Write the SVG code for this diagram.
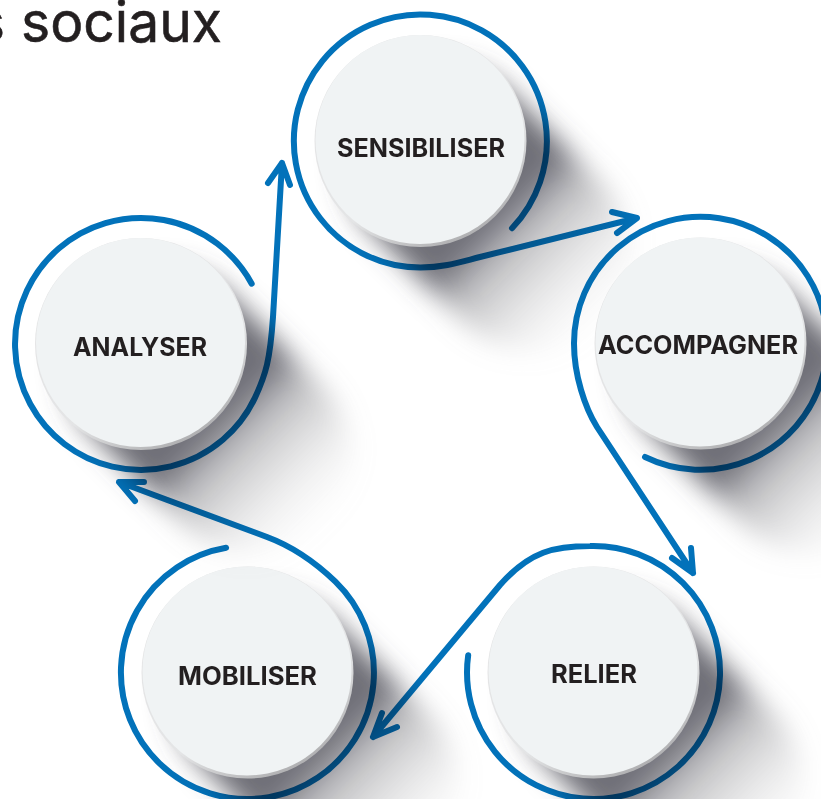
<svg xmlns="http://www.w3.org/2000/svg" width="821" height="799" viewBox="0 0 821 799">
<style>
.flow{fill:none;stroke:#0272ba;stroke-width:6;stroke-linecap:round;stroke-linejoin:round}
.shadow{fill:url(#sg);filter:url(#sb);mix-blend-mode:multiply}
.rim{fill:url(#rg)}
.face{fill:#f0f3f4}
.label{font-family:"Inter","Liberation Sans",sans-serif;font-weight:700;font-size:25px;fill:#231f20;text-anchor:middle}
.title{font-family:"Inter","Liberation Sans",sans-serif;font-size:57px;fill:#231f20;stroke:#231f20;stroke-width:.6}
</style>
<defs>
<linearGradient id="sg" x1="0" y1="0" x2="1" y2="0">
<stop offset="0.53" stop-color="#55555f" stop-opacity=".85"/>
<stop offset="0.58" stop-color="#60606a" stop-opacity=".65"/>
<stop offset="0.64" stop-color="#77777c" stop-opacity=".48"/>
<stop offset="0.73" stop-color="#8a8a8e" stop-opacity=".34"/>
<stop offset="0.86" stop-color="#a5a5a8" stop-opacity=".15"/>
<stop offset="1" stop-color="#c0c0c0" stop-opacity="0"/>
</linearGradient>
<linearGradient id="rg" x1="0.25" y1="0.1" x2="0.75" y2="0.95">
<stop offset="0" stop-color="#e4e4e5"/>
<stop offset="0.65" stop-color="#e4e5e6"/>
<stop offset="1" stop-color="#aeaeb0"/>
</linearGradient>
<filter id="sb" x="-20%" y="-20%" width="140%" height="140%"><feGaussianBlur stdDeviation="13"/></filter>
<path id="sh" d="M30-98H160A98 98 0 0 1 160 98H30A98 98 0 0 1 30-98Z" transform="rotate(45)"/>
</defs>
<rect width="821" height="799" fill="#fff"/>
<text class="title" y="42"><tspan x="-25">s</tspan><tspan x="21" textLength="201" lengthAdjust="spacingAndGlyphs">sociaux</tspan></text>
<g id="connectors">
<path class="flow" d="M512 228.200A126.500 126.500 0 1 0 420.500 267.500C445 267.500 462 261.500 480 257L637 218M612 212L637 218L617 233"/>
<path class="flow" d="M645 457A126.500 126.500 0 1 0 574 343.500C574 375 585 408 597 427L693 573M691 548L693 573L672 558"/>
<path class="flow" d="M468.200 655.200A126.500 126.500 0 1 0 590 546C555 546 530 551 500 585L373 737M382 713L373 737L397 727"/>
<path class="flow" d="M226.100 547.800A126.500 126.500 0 1 0 335.400 581.600C317 564 294 547 267 537L119 482M144 482L119 482L135 501"/>
<path class="flow" d="M251.700 283.700A126 126 0 1 0 254.900 397.900C266 374 270 360 273 317L282 163M268 183L282 163L290 185"/>
</g>
<g id="node-sensibiliser" transform="translate(420.500 141)">
<use href="#sh" class="shadow"/><circle class="rim" r="106"/><circle class="face" cx="-.5" cy="-1.500" r="104.500"/>
<text class="label" x=".5" y="16" textLength="168" lengthAdjust="spacingAndGlyphs">SENSIBILISER</text>
</g>
<g id="node-accompagner" transform="translate(700.500 343.500)">
<use href="#sh" class="shadow"/><circle class="rim" r="106"/><circle class="face" cx="-.5" cy="-1.500" r="104.500"/>
<text class="label" x="-2.500" y="10.500" textLength="200" lengthAdjust="spacingAndGlyphs">ACCOMPAGNER</text>
</g>
<g id="node-relier" transform="translate(593.500 672.500)">
<use href="#sh" class="shadow"/><circle class="rim" r="106"/><circle class="face" cx="-.5" cy="-1.500" r="104.500"/>
<text class="label" x=".5" y="10.500" textLength="86" lengthAdjust="spacingAndGlyphs">RELIER</text>
</g>
<g id="node-mobiliser" transform="translate(247.500 672.500)">
<use href="#sh" class="shadow"/><circle class="rim" r="106"/><circle class="face" cx="-.5" cy="-1.500" r="104.500"/>
<text class="label" x="0" y="12.500" textLength="139" lengthAdjust="spacingAndGlyphs">MOBILISER</text>
</g>
<g id="node-analyser" transform="translate(141 344)">
<use href="#sh" class="shadow"/><circle class="rim" r="106"/><circle class="face" cx="-.5" cy="-1.500" r="104.500"/>
<text class="label" x="-1" y="12" textLength="134" lengthAdjust="spacingAndGlyphs">ANALYSER</text>
</g>
</svg>
